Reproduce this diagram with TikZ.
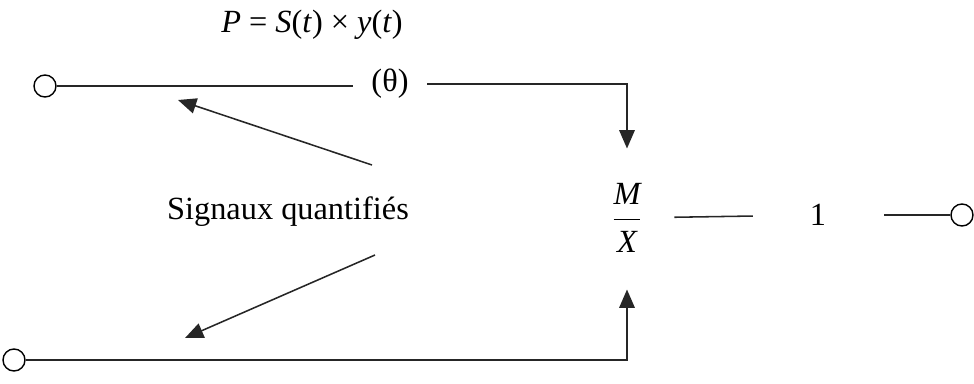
\documentclass[tikz,border=0pt]{standalone}
\usepackage{amsmath}
\usepackage{fontspec}
\setmainfont{Liberation Serif}
\usepackage{tikz}
\usetikzlibrary{arrows.meta, positioning, calc}

\begin{document}
\begin{tikzpicture}[
    x=0.025cm, y=-0.025cm,
    font=\fontsize{23}{27}\selectfont,
    term/.style={
      circle, draw, line width=1pt,
      minimum size=0.55cm, inner sep=0pt
    },
    lbl/.style={inner sep=2pt},
    wire/.style={line width=1.1pt, color=black!85},
    arr/.style={wire, -{Triangle[length=13pt, width=11pt]}}
  ]
    \useasboundingbox (0,0) rectangle (974,383);

    % terminals
    \node[term] (inA) at (45,86) {};
    \node[term] (inB) at (14,360) {};
    \node[term] (out) at (962,215) {};

    % labels and blocks
    \node[lbl] (prod) at (312,25) {\textit{P} = \textit{S}(\textit{t}) × \textit{y}(\textit{t})};
    \node[lbl, inner xsep=13pt] (theta) at (390,84) {(θ)};
    \node[lbl] (frac) at (627,218) {$\dfrac{\textit{M}}{\textit{X}}$};
    \node[lbl] (one) at (818,215) {1};
    \node[lbl] (sig) at (288,212) {Signaux quantifiés};

    \coordinate (tailA) at (372,165);
    \coordinate (tipA) at (178,100);
    \coordinate (tailB) at (375,255);
    \coordinate (tipB) at (185,338);

    \draw[wire] (inA) -- (inA -| theta.west);
    \draw[arr, shorten >=0.8cm] (theta) -| (frac);
    \draw[arr, shorten >=0.85cm] (inB) -| (frac);
    \draw[wire, shorten <=0.73cm, shorten >=1.35cm] (frac) -- (one);
    \draw[wire, shorten <=1.38cm] (one) -- (out);

    \draw[arr] (tailA) -- (tipA);
    \draw[arr] (tailB) -- (tipB);
  \end{tikzpicture}
\end{document}
